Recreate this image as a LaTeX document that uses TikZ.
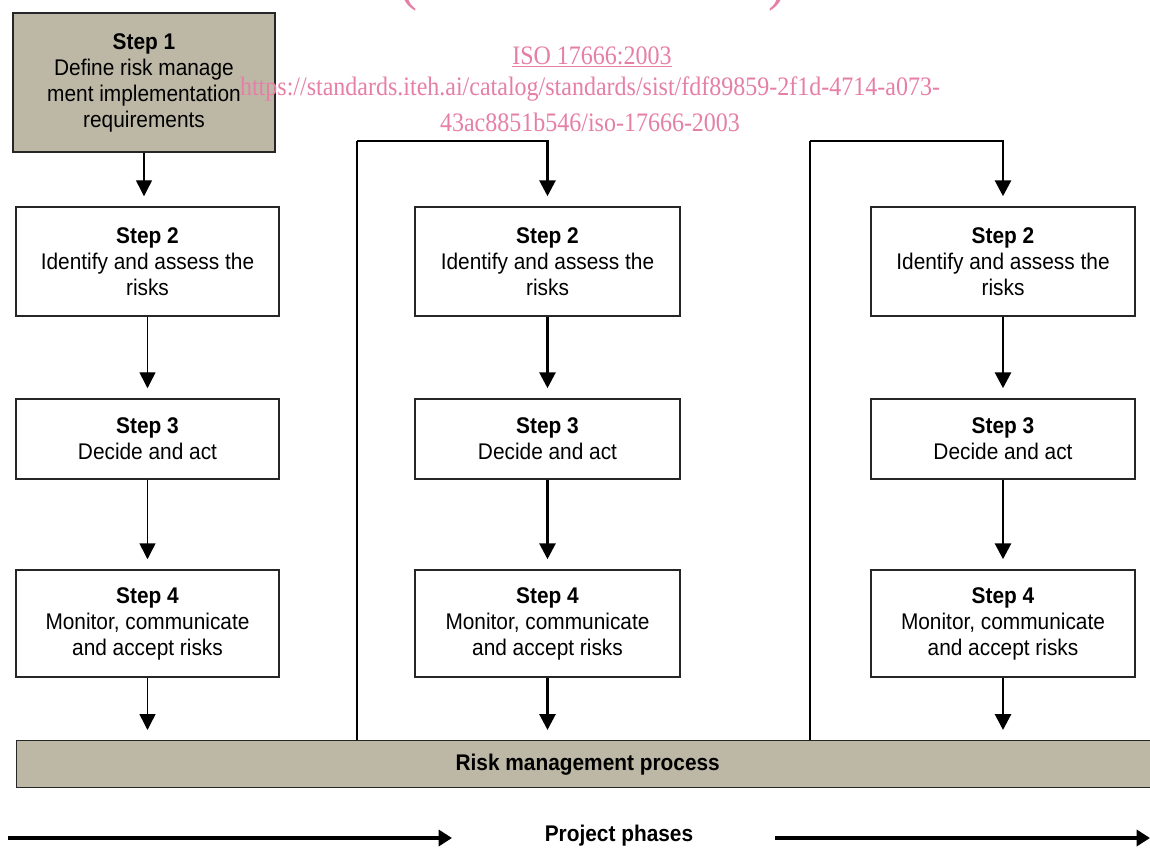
\documentclass[tikz,border=0pt]{standalone}
\usepackage{fontspec}
\setmainfont{Liberation Sans}[FakeStretch=0.92]
\newfontfamily\wmfont{Liberation Serif}[FakeStretch=0.9]
\usetikzlibrary{arrows.meta}
\definecolor{tanfill}{HTML}{BDB8A6}
\definecolor{wmpink}{HTML}{E67FA6}
\newlength\px \setlength\px{0.75pt}
\begin{document}
\begin{tikzpicture}[x=0.75pt,y=-0.75pt,
  box/.style={draw=black!85, line width=1.1pt, fill=white, align=center, inner sep=0pt,
    font=\fontsize{17pt}{19.5pt}\selectfont},
  thinarr/.style={line width=1.1pt, -{Triangle[width=12pt,length=12pt]}, shorten >=7.5pt},
  thickarr/.style={line width=2.2pt, -{Triangle[width=12pt,length=12pt]}, shorten >=7.5pt},
  loopline/.style={line width=2.2pt},
  phasearr/.style={line width=3pt, -{Triangle[width=12pt,length=10pt]}},
  wm/.style={text=wmpink, font=\wmfont\fontsize{20pt}{21pt}\selectfont, inner sep=0pt},
  lbl/.style={font=\fontsize{17pt}{19.5pt}\selectfont\bfseries, inner sep=0pt}
]
\path[use as bounding box, clip] (0,0) rectangle (1150,848);
\fill[white] (0,0) rectangle (1150,848);

% step 1
\node[box, fill=tanfill, minimum width=262\px, minimum height=139\px] (s1) at (144,82.5)
  {\textbf{Step 1}\\Define risk manage\\ment implementation\\requirements};

% columns
\foreach \n/\x/\w in {a/147.5/263, b/547.5/265, c/1003/264}{
  \node[box, minimum width=\w\px, minimum height=109\px] (\n2) at (\x,261.5)
    {\textbf{Step 2}\\Identify and assess the\\risks};
  \node[box, minimum width=\w\px, minimum height=80\px] (\n3) at (\x,439)
    {\textbf{Step 3}\\Decide and act};
  \node[box, minimum width=\w\px, minimum height=107\px] (\n4) at (\x,623.5)
    {\textbf{Step 4}\\Monitor, communicate\\and accept risks};
}

% bar
\node[box, fill=tanfill, minimum width=1142\px, minimum height=47\px, anchor=north west,
  font=\fontsize{17pt}{19.5pt}\selectfont\bfseries] (bar) at (16,740)
  {\raisebox{-2.5pt}{Risk management process}};

% left column arrows
\draw[thinarr] (s1.south) -- (s1.south |- a2.north);
\draw[thinarr] (a2) -- (a3);
\draw[thinarr] (a3) -- (a4);
\draw[thinarr] (a4.south) -- (a4.south |- bar.north);

% middle and right
\foreach \n in {b,c}{
  \draw[thickarr] (\n2) -- (\n3);
  \draw[thickarr] (\n3) -- (\n4);
  \draw[thickarr] (\n4.south) -- (\n4.south |- bar.north);
}

% feedback loops
\coordinate (lb0) at (357,740);
\coordinate (lb1) at (357,141);
\coordinate (lc0) at (810,740);
\coordinate (lc1) at (810,141);
\draw[loopline] (lb0) -- (lb1);
\draw[thickarr] (lb1) -| (b2.north);
\draw[loopline] (lc0) -- (lc1);
\draw[thickarr] (lc1) -| (c2.north);

% project phases
\node[lbl] (pp) at (619,836) {Project phases};
\coordinate (pa0) at (8,838);
\coordinate (pa1) at (452,838);
\coordinate (pb0) at (775,838);
\coordinate (pb1) at (1150,838);
\draw[phasearr] (pa0) -- (pa1);
\draw[phasearr] (pb0) -- (pb1);

% watermark (drawn on top)
\node[wm, font=\wmfont\fontsize{45pt}{45pt}\selectfont, anchor=base] (wmtop) at (593,-1) {(standards.iteh.ai)};
\node[wm] (wm1) at (592,57) {\underline{ISO 17666:2003}};
\node[wm] (wm2) at (590,89) {https://standards.iteh.ai/catalog/standards/sist/fdf89859-2f1d-4714-a073-};
\node[wm] (wm3) at (590,122) {43ac8851b546/iso-17666-2003};
\end{tikzpicture}
\end{document}
